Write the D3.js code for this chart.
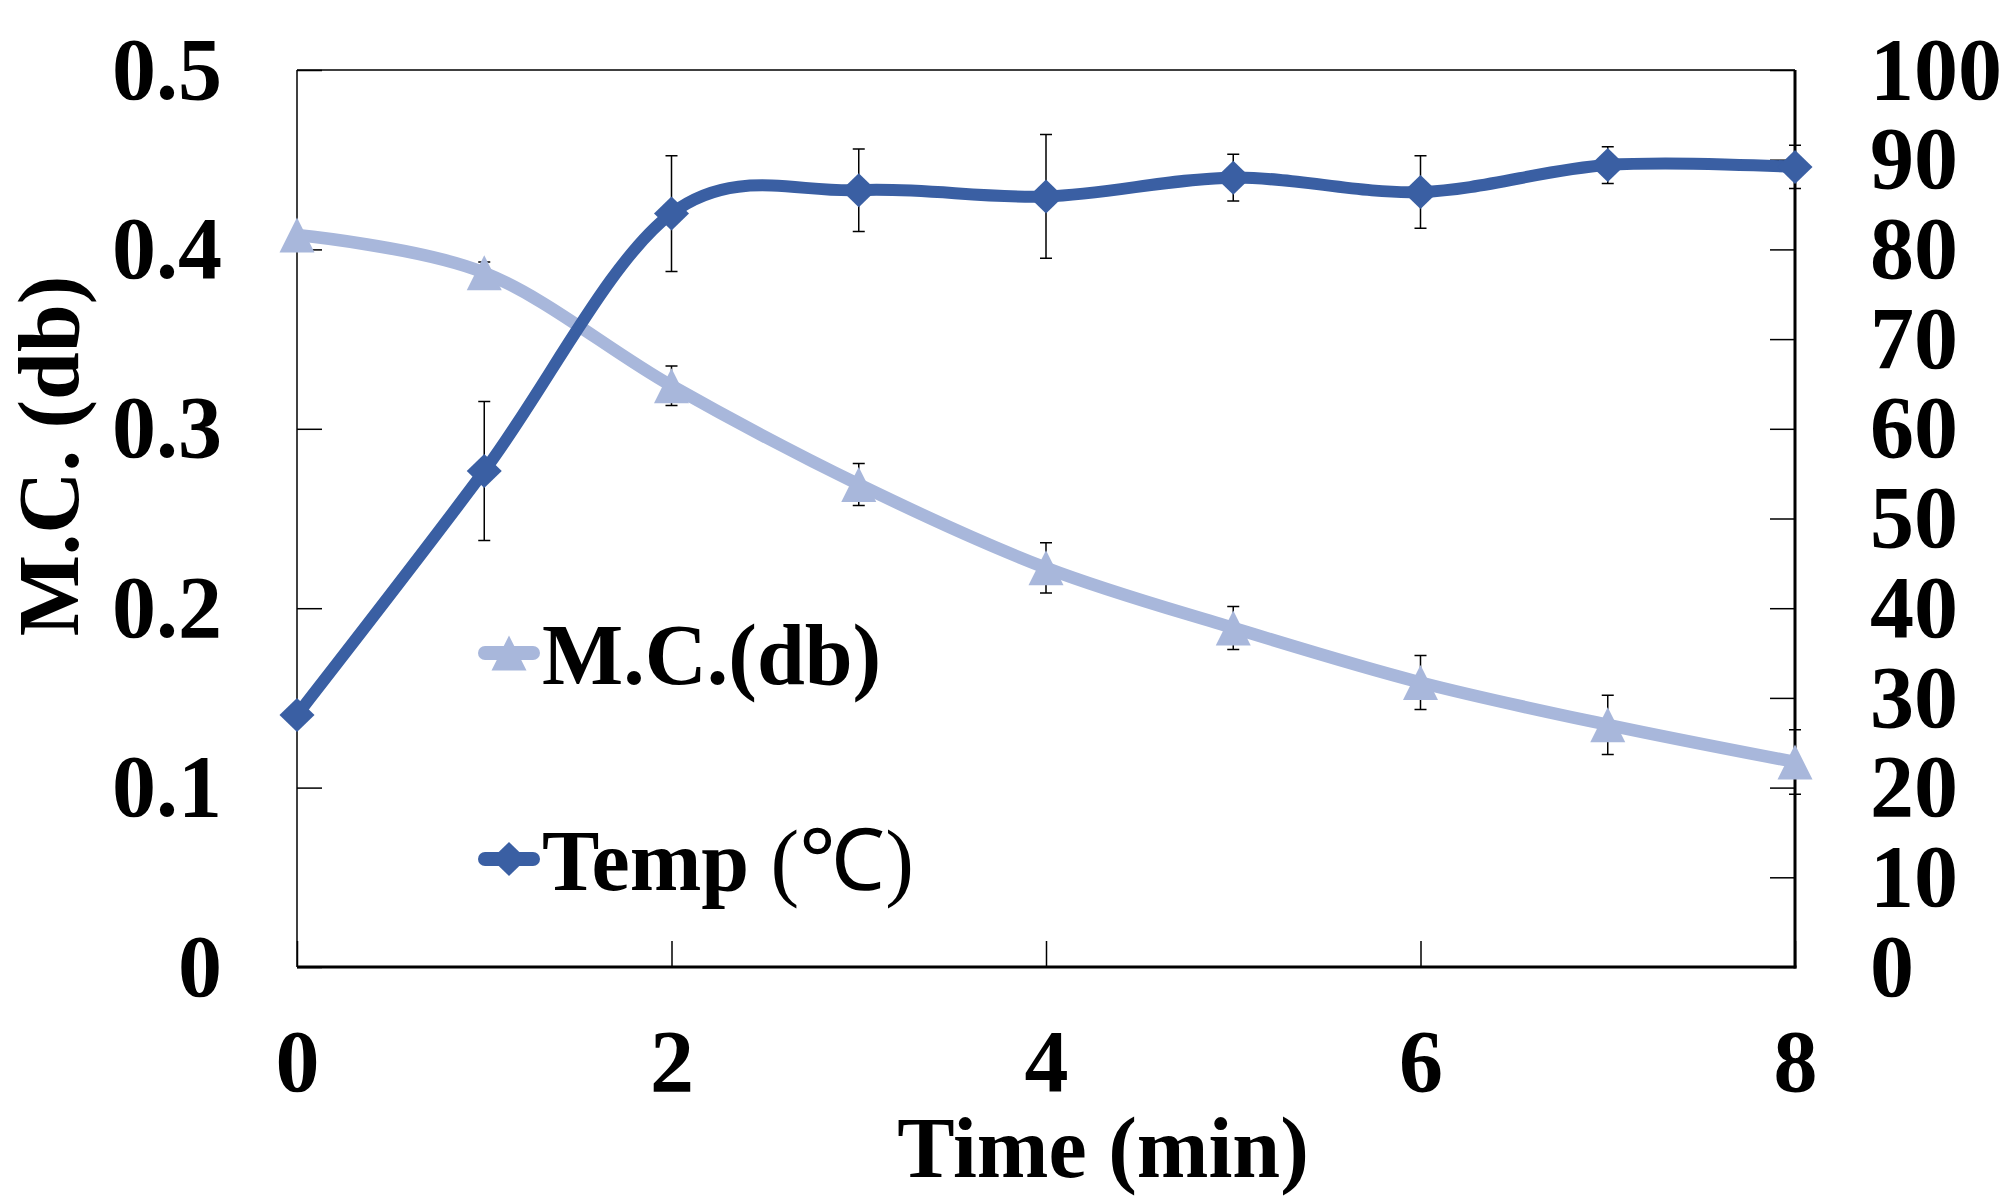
<!DOCTYPE html>
<html lang="en">
<head>
<meta charset="UTF-8">
<title>M.C. and Temp vs Time</title>
<script src="https://d3js.org/d3.v7.min.js"></script>
<style>
  body { margin: 0; padding: 0; background: #fff; }
  svg text { font-family: "Liberation Serif", "Times New Roman", serif; font-weight: bold; fill: #000; }
  .tick line { stroke: #000; stroke-width: 1.5px; }
  .err { stroke: #000; stroke-width: 1.5px; fill: none; }
</style>
</head>
<body>
<div id="chart"></div>
<script>
  // data
  const time = [0, 1, 2, 3, 4, 5, 6, 7, 8];
  const mc = [0.408, 0.387, 0.324, 0.269, 0.2225, 0.189, 0.1586, 0.135, 0.1143];
  const mcErr = [0, 0.006, 0.011, 0.0117, 0.014, 0.012, 0.015, 0.0165, 0.018];
  const temp = [28.1, 55.3, 84.0, 86.6, 85.9, 88.0, 86.4, 89.4, 89.2];
  const tempErr = [0, 7.75, 6.45, 4.6, 6.9, 2.6, 4.05, 2.05, 2.4];
  const xTicks = [0, 2, 4, 6, 8];
  const leftTicks = [0, 0.1, 0.2, 0.3, 0.4, 0.5];
  const rightTicks = [0, 10, 20, 30, 40, 50, 60, 70, 80, 90, 100];

  const width = 2010, height = 1197;
  const plotL = 297, plotR = 1795, plotT = 70, plotB = 967;
  const mcColor = "#a8b7db", tempColor = "#3a5fa3";

  const svg = d3.select("#chart").append("svg")
    .attr("width", width).attr("height", height);

  const x = d3.scaleLinear().domain([0, 8]).range([plotL, plotR]);
  const yL = d3.scaleLinear().domain([0, 0.5]).range([plotB, plotT]);
  const yR = d3.scaleLinear().domain([0, 100]).range([plotB, plotT]);

  // axes
  const gL = svg.append("g").attr("transform", `translate(${plotL},0)`)
    .call(d3.axisLeft(yL).tickValues(leftTicks).tickSize(-25).tickSizeOuter(0).tickPadding(75)
      .tickFormat(d => d === 0 ? "0" : d3.format(".1f")(d)));
  const gR = svg.append("g").attr("transform", `translate(${plotR},0)`)
    .call(d3.axisRight(yR).tickValues(rightTicks).tickSize(-25).tickSizeOuter(0).tickPadding(75)
      .tickFormat(d3.format("d")));
  const gB = svg.append("g").attr("transform", `translate(0,${plotB})`)
    .call(d3.axisBottom(x).tickValues(xTicks).tickSize(-26).tickSizeOuter(0).tickPadding(62)
      .tickFormat(d3.format("d")));
  [gL, gR, gB].forEach(g => {
    g.select(".domain").remove();
    g.selectAll("text").style("font-size", "88px");
  });

  // frame
  svg.append("line").attr("x1", plotL).attr("x2", plotR).attr("y1", plotT).attr("y2", plotT)
    .attr("stroke", "#000").attr("stroke-width", 1.5);
  svg.append("line").attr("x1", plotL).attr("x2", plotL).attr("y1", plotT).attr("y2", plotB)
    .attr("stroke", "#000").attr("stroke-width", 1.5);
  svg.append("line").attr("x1", plotR).attr("x2", plotR).attr("y1", plotT).attr("y2", plotB + 1.5)
    .attr("stroke", "#000").attr("stroke-width", 3);
  svg.append("line").attr("x1", plotL).attr("x2", plotR + 1.5).attr("y1", plotB).attr("y2", plotB)
    .attr("stroke", "#000").attr("stroke-width", 3);

  const triangle = "M0,-17.5L17.5,17.5L-17.5,17.5Z";
  const diamond = "M0,-17L17.5,0L0,17L-17.5,0Z";
  const curve = d3.curveCatmullRom.alpha(0);

  function errorBars(vals, errs, y) {
    const g = svg.append("g");
    time.forEach((t, i) => {
      if (!errs[i]) return;
      const cx = x(t), y1 = y(vals[i] + errs[i]), y2 = y(vals[i] - errs[i]);
      g.append("path").attr("class", "err")
        .attr("d", `M${cx},${y1}V${y2}M${cx - 6},${y1}H${cx + 6}M${cx - 6},${y2}H${cx + 6}`);
    });
  }

  // M.C. series (left axis)
  errorBars(mc, mcErr, yL);
  svg.append("path")
    .datum(time.map((t, i) => [t, mc[i]]))
    .attr("fill", "none").attr("stroke", mcColor).attr("stroke-width", 12.5)
    .attr("d", d3.line().x(d => x(d[0])).y(d => yL(d[1])).curve(curve));
  svg.append("g").selectAll("path")
    .data(time.map((t, i) => [t, mc[i]]))
    .join("path")
    .attr("d", triangle).attr("fill", mcColor)
    .attr("transform", d => `translate(${x(d[0])},${yL(d[1])})`);

  // Temp series (right axis)
  errorBars(temp, tempErr, yR);
  svg.append("path")
    .datum(time.map((t, i) => [t, temp[i]]))
    .attr("fill", "none").attr("stroke", tempColor).attr("stroke-width", 12)
    .attr("d", d3.line().x(d => x(d[0])).y(d => yR(d[1])).curve(curve));
  svg.append("g").selectAll("path")
    .data(time.map((t, i) => [t, temp[i]]))
    .join("path")
    .attr("d", diamond).attr("fill", tempColor)
    .attr("transform", d => `translate(${x(d[0])},${yR(d[1])})`);

  // axis titles
  svg.append("text")
    .attr("transform", "translate(78,456) rotate(-90)")
    .attr("text-anchor", "middle")
    .style("font-size", "86px")
    .text("M.C. (db)");
  svg.append("text")
    .attr("x", 1103).attr("y", 1177)
    .attr("text-anchor", "middle")
    .style("font-size", "86px")
    .text("Time (min)");

  // legend
  const legend = [
    { label: "M.C.(db)", color: mcColor, shape: triangle, y: 653 },
    { label: "Temp ", tail: "(℃)", color: tempColor, shape: diamond, y: 859 }
  ];
  legend.forEach(l => {
    svg.append("line").attr("x1", 485).attr("x2", 533).attr("y1", l.y).attr("y2", l.y)
      .attr("stroke", l.color).attr("stroke-width", 14).attr("stroke-linecap", "round");
    svg.append("path").attr("d", l.shape).attr("fill", l.color)
      .attr("transform", `translate(509,${l.y})`);
    const t = svg.append("text").attr("x", 542).attr("y", l.y + 31)
      .style("font-size", "86px").text(l.label);
    if (l.tail) t.append("tspan").style("font-weight", "normal").text(l.tail);
  });
</script>
</body>
</html>
